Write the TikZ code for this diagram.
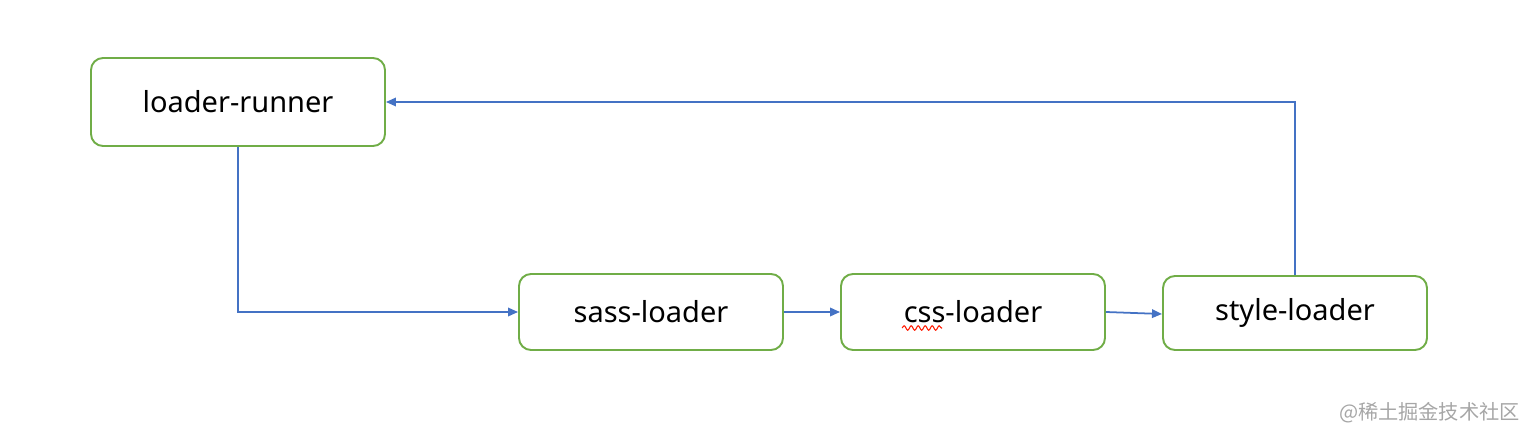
\documentclass[tikz,border=0pt]{standalone}
\usepackage{fontspec}
\setmainfont{Noto Sans}
\newfontfamily\cjkfont{Noto Sans CJK SC}
\usetikzlibrary{arrows.meta,positioning,calc,decorations.pathmorphing}
\definecolor{linkblue}{HTML}{4472C4}
\definecolor{boxgreen}{HTML}{70AD47}

\begin{document}
\begin{tikzpicture}[
  loader/.style={draw=boxgreen, line width=1.1pt, rounded corners=2.4mm,
    minimum width=5.28cm, minimum height=1.52cm, font=\fontsize{16.5}{19}\selectfont},
  link/.style={draw=linkblue, line width=1pt, -{Triangle[length=2mm,width=1.7mm]}},
  spell/.style={draw=red!80!orange, line width=0.6pt,
    decorate, decoration={snake, amplitude=0.45mm, segment length=1.4mm}}
]
  \useasboundingbox (0,0) rectangle (30.8,8.8);
  \node[loader, minimum width=5.88cm, minimum height=1.76cm] (runner) at (4.76,6.76) {loader-runner};
  \node[loader] (sass) at (13.02,2.56) {sass-loader};
  \node[loader] (css) at (19.46,2.56) {css-loader};
  \node[loader, minimum height=1.48cm] (style) at (25.90,2.54) {style-loader};
  \draw[link] (runner.south) |- (sass.west);
  \draw[link] (sass.east) -- (css.west);
  \draw[link] (css.east) -- ([yshift=-0.02cm]style.west);
  \draw[link] (style.north) |- (runner.east);
  % squiggle under "css"
  \draw[spell] (18.04,2.24) -- (18.84,2.24);
  \node[font=\cjkfont\fontsize{11.5}{13}\selectfont, text=black!35, anchor=east] (mark) at (30.52,0.54) {@稀土掘金技术社区};
\end{tikzpicture}
\end{document}
